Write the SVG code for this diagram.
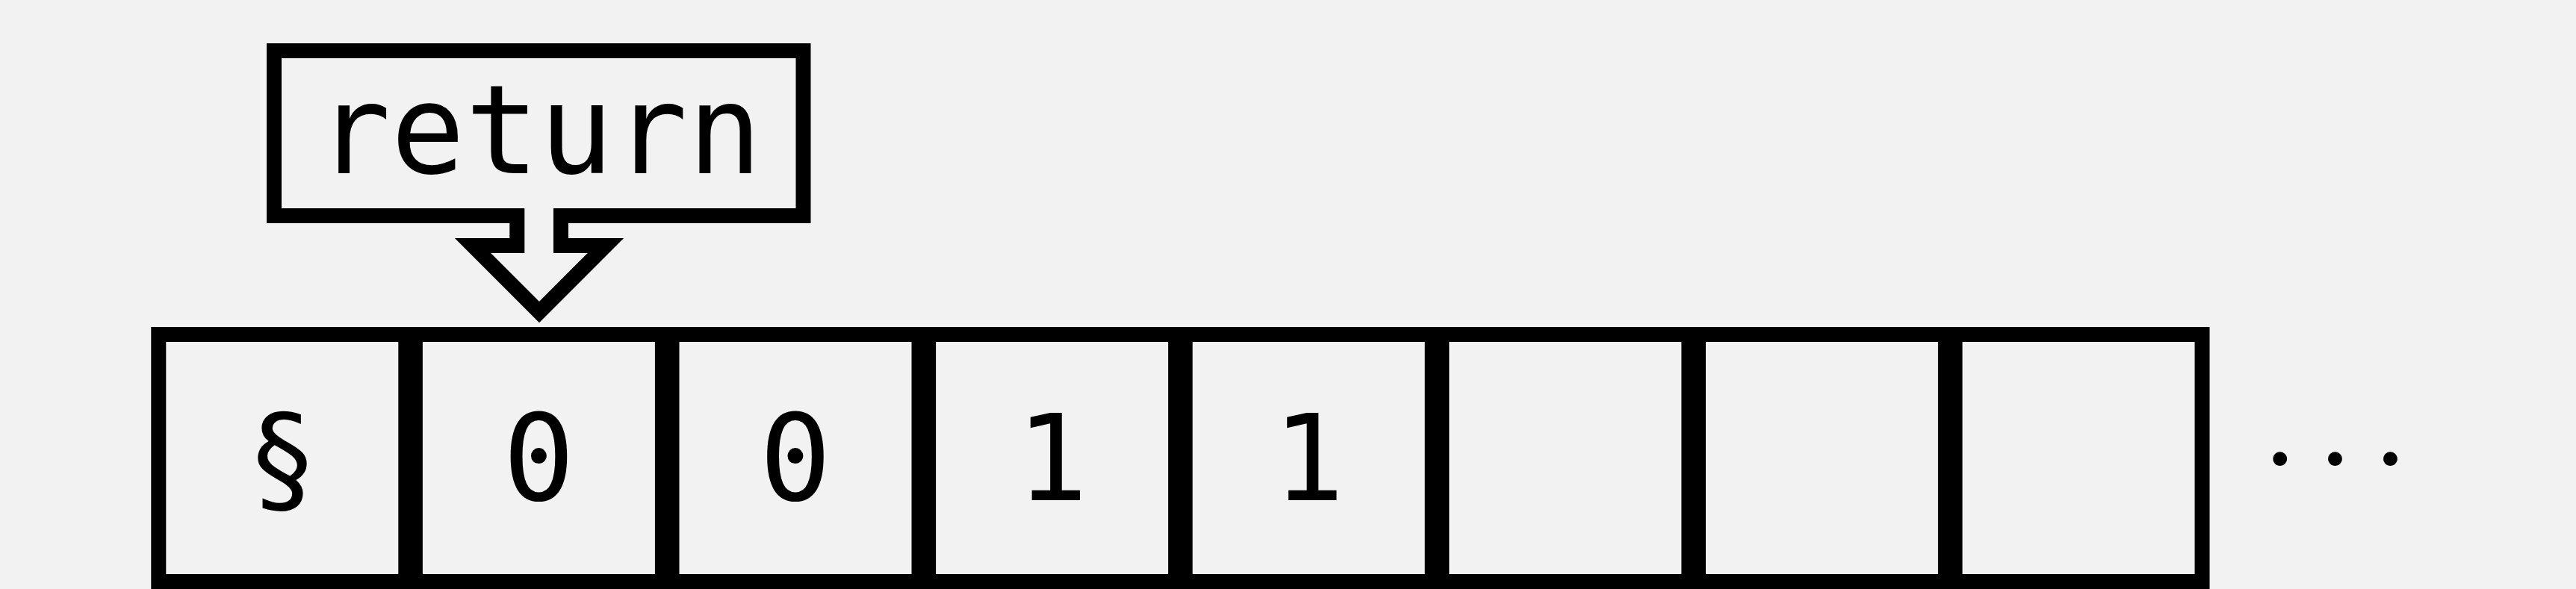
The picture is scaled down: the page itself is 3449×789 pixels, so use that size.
<svg xmlns="http://www.w3.org/2000/svg" width="3449" height="789" viewBox="0 0 3449 789">
<style>
.cell{fill:#f2f2f2;stroke:#000;stroke-width:20}
.t{font-family:"DejaVu Sans Mono","Liberation Mono",monospace;font-size:160px;fill:#000;text-anchor:middle}
.lbl{font-size:165px}
.dots{font-family:Lato,"DejaVu Sans",sans-serif;font-size:150px;fill:#000;text-anchor:middle}
</style>
<rect x="0" y="0" width="3449" height="789" fill="#f2f2f2"/>
<g id="cells">
<g id="cell0"><rect class="cell" x="212.3" y="448" width="331" height="331"/><text class="t" x="377.8" y="670">§</text></g>
<g id="cell1"><rect class="cell" x="555.9" y="448" width="331" height="331"/><text class="t" x="721.4" y="670">0</text></g>
<g id="cell2"><rect class="cell" x="899.5" y="448" width="331" height="331"/><text class="t" x="1065" y="670">0</text></g>
<g id="cell3"><rect class="cell" x="1243.1" y="448" width="331" height="331"/><text class="t" x="1408.6" y="670">1</text></g>
<g id="cell4"><rect class="cell" x="1586.7" y="448" width="331" height="331"/><text class="t" x="1752.2" y="670">1</text></g>
<g id="cell5"><rect class="cell" x="1930.3" y="448" width="331" height="331"/></g>
<g id="cell6"><rect class="cell" x="2273.9" y="448" width="331" height="331"/></g>
<g id="cell7"><rect class="cell" x="2617.5" y="448" width="331" height="331"/></g>
</g>
<g id="ellipsis"><text class="dots" x="3052.7 3126.5 3200.4" y="623">...</text></g>
<g id="return-callout">
<path d="M692.3,289 H367 V68 H1075.5 V289 H751 V329 H811 L722,418 L633,329 H692.3 Z" fill="#f2f2f2" stroke="#000" stroke-width="20"/>
<text class="t lbl" x="722" y="232">return</text>
</g>
<g id="connectors"></g>
</svg>
